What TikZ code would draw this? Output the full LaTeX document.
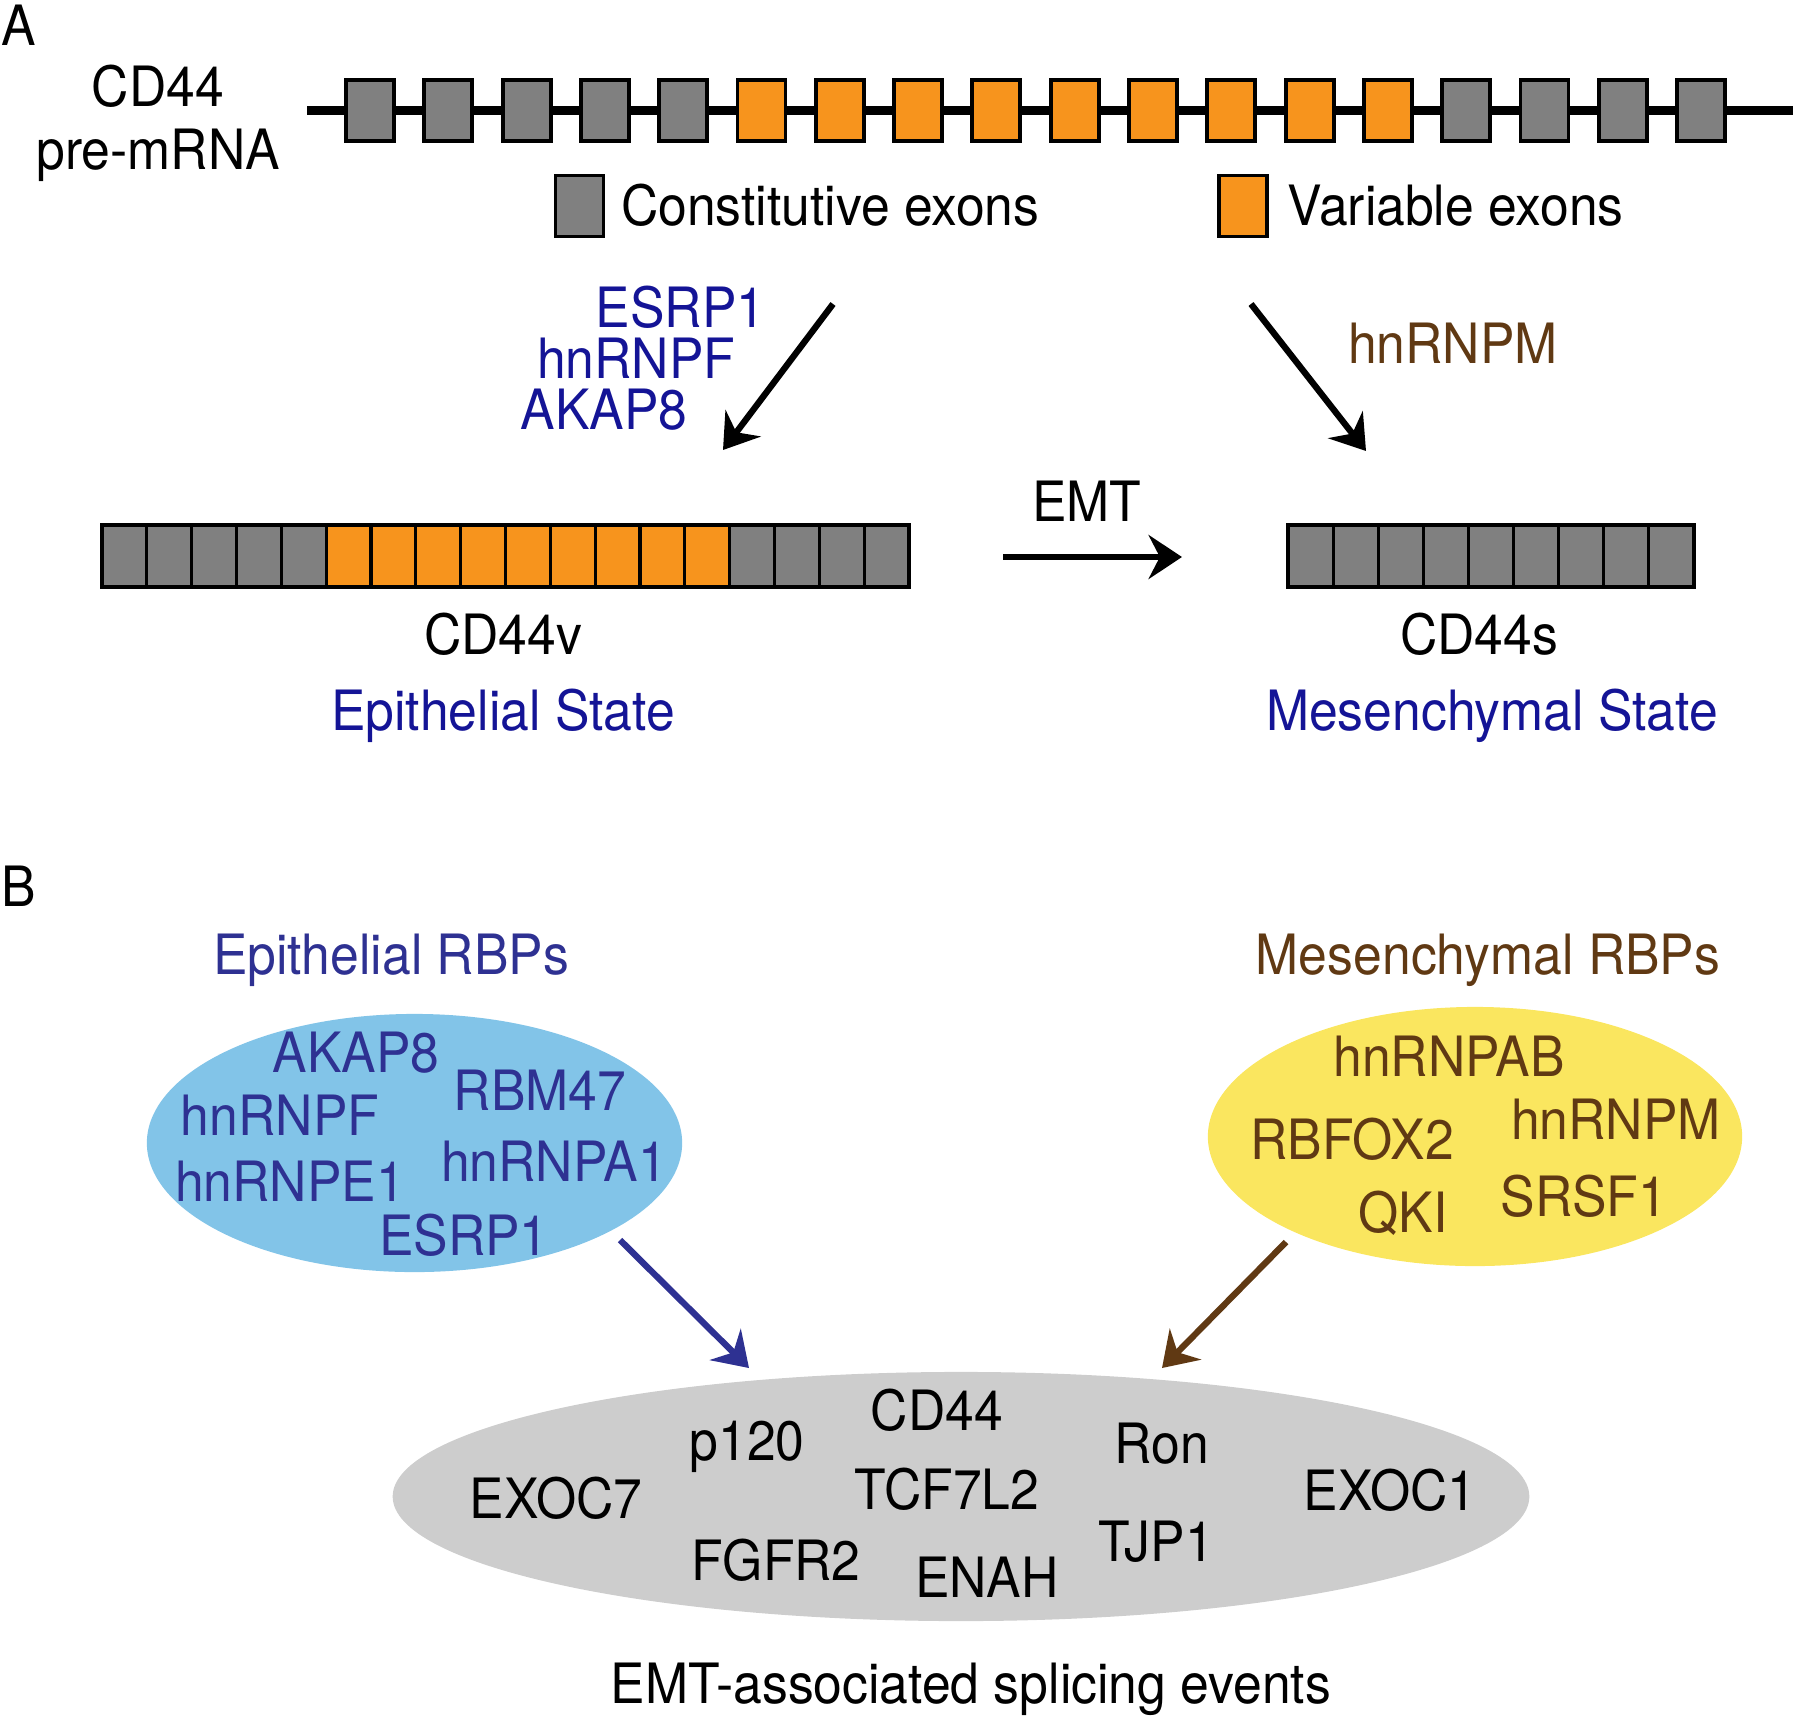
\documentclass[tikz,border=0pt]{standalone}
\usepackage{fontspec}
\setmainfont{TeX Gyre Heros}[FakeStretch=0.93]
\usetikzlibrary{arrows.meta,positioning,shapes.geometric}
\definecolor{exgray}{RGB}{128,128,128}
\definecolor{exorange}{RGB}{247,148,29}
\definecolor{stblue}{RGB}{20,20,150}
\definecolor{rbpblue}{RGB}{46,49,146}
\definecolor{rbpbrown}{RGB}{96,57,19}
\definecolor{epiblue}{RGB}{130,196,232}
\definecolor{mesyellow}{RGB}{250,230,95}
\definecolor{evgray}{RGB}{205,205,205}
\tikzstyle{lbl}=[inner sep=0pt, text height=11.35pt, text depth=0pt, font=\fontsize{15.8pt}{19pt}\selectfont]
\tikzstyle{exon}=[rectangle, draw=black, line width=1.1pt, minimum width=0.48cm, minimum height=0.61cm, inner sep=0pt]
\tikzstyle{cell}=[rectangle, draw=black, line width=0.9pt, minimum width=0.448cm, minimum height=0.62cm, inner sep=0pt]
\tikzstyle{blob}=[ellipse, inner sep=0pt, draw=none]
\tikzstyle{fatarrow}=[line width=1.8pt, -{Stealth[length=9.5pt,width=12.5pt,inset=3.2pt]}]

\begin{document}
\begin{tikzpicture}[x=0.01cm, y=-0.01cm]
	\useasboundingbox (0,0) rectangle (1800,1718);

	% ---- A: pre-mRNA
	\node[lbl] (labA) at (19,26) {A};
	\node[lbl] (cdpre) at (158,87) {CD44};
	\node[lbl] (premrna) at (158,150) {pre-mRNA};

	\coordinate (bbL) at (307,110.5);
	\coordinate (bbR) at (1793,110.5);
	\draw[line width=2.3pt] (bbL) -- (bbR);
	\foreach \i in {1,...,18}{
		\pgfmathtruncatemacro{\isvar}{and(\i>5,\i<15)}
		\ifnum\isvar=1 \def\col{exorange}\else \def\col{exgray}\fi
		\node[exon, fill=\col] (ex\i) at ({370+78.3*(\i-1)},110.5) {};
	}

	\node[exon, fill=exgray] (legC) at (579.5,206) {};
	\node[lbl, anchor=west, right=0.15cm of legC] (legCtxt) {Constitutive exons};
	\node[exon, fill=exorange] (legV) at (1243,206) {};
	\node[lbl, anchor=west, right=0.18cm of legV] (legVtxt) {Variable exons};

	% regulators
	\node[lbl, anchor=east, text=stblue] (aesrp) at (766,308) {ESRP1};
	\node[lbl, anchor=east, text=stblue] (ahnf) at (736,359) {hnRNPF};
	\node[lbl, anchor=east, text=stblue] (aakap) at (688,410) {AKAP8};
	\node[lbl, text=rbpbrown] (ahnm) at (1453,344) {hnRNPM};

	\coordinate (splL0) at (833,304);
	\coordinate (splL1) at (723,450);
	\coordinate (splR0) at (1251,304);
	\coordinate (splR1) at (1366,451);
	\draw[fatarrow] (splL0) -- (splL1);
	\draw[fatarrow] (splR0) -- (splR1);

	% spliced forms
	\foreach \i in {1,...,18}{
		\pgfmathtruncatemacro{\isvar}{and(\i>5,\i<15)}
		\ifnum\isvar=1 \def\col{exorange}\else \def\col{exgray}\fi
		\node[cell, fill=\col] (cv\i) at ({102+44.83*(\i-0.5)},556) {};
	}
	\foreach \i in {1,...,9}{
		\node[cell, fill=exgray, minimum width=0.451cm] (cs\i) at ({1288+45.1*(\i-0.5)},556) {};
	}

	\node[lbl] (emt) at (1087,502) {EMT};
	\coordinate (emt0) at (1003,557);
	\coordinate (emt1) at (1182,557);
	\draw[fatarrow] (emt0) -- (emt1);

	\node[lbl] (cdv) at (503,635) {CD44v};
	\node[lbl] (cds) at (1479,635) {CD44s};
	\node[lbl, text=stblue] (epistate) at (503,711) {Epithelial State};
	\node[lbl, text=stblue] (messtate) at (1492,711) {Mesenchymal State};

	% ---- B: RBPs
	\node[lbl] (labB) at (19,887) {B};
	\node[lbl, text=rbpblue] (epirbp) at (391,955) {Epithelial RBPs};
	\node[lbl, text=rbpbrown] (mesrbp) at (1488,955) {Mesenchymal RBPs};

	\node[blob, fill=epiblue, minimum width=5.35cm, minimum height=2.58cm] (epiell) at (414.5,1143) {};
	\node[blob, fill=mesyellow, minimum width=5.34cm, minimum height=2.59cm] (mesell) at (1475,1136.5) {};
	\node[blob, fill=evgray, minimum width=11.36cm, minimum height=2.49cm] (evell) at (961,1496.5) {};

	\node[lbl, text=rbpblue] (bakap) at (356,1053) {AKAP8};
	\node[lbl, text=rbpblue] (brbm) at (540,1091) {RBM47};
	\node[lbl, text=rbpblue] (bhnf) at (280,1116) {hnRNPF};
	\node[lbl, text=rbpblue] (bhna) at (554,1162) {hnRNPA1};
	\node[lbl, text=rbpblue] (bhne) at (290,1182) {hnRNPE1};
	\node[lbl, text=rbpblue] (besrp) at (464,1236) {ESRP1};

	\node[lbl, text=rbpbrown] (bhnab) at (1449,1057) {hnRNPAB};
	\node[lbl, text=rbpbrown] (bhnm) at (1616,1120) {hnRNPM};
	\node[lbl, text=rbpbrown] (bfox) at (1352,1140) {RBFOX2};
	\node[lbl, text=rbpbrown] (bsrsf) at (1584,1197) {SRSF1};
	\node[lbl, text=rbpbrown] (bqki) at (1403,1213) {QKI};

	\node[lbl] (gcd) at (937,1411) {CD44};
	\node[lbl] (gp) at (747,1441) {p120};
	\node[lbl] (gron) at (1162,1444) {Ron};
	\node[lbl] (gex7) at (556,1499) {EXOC7};
	\node[lbl] (gtcf) at (947,1490) {TCF7L2};
	\node[lbl] (gex1) at (1390,1491) {EXOC1};
	\node[lbl] (gtjp) at (1156,1542) {TJP1};
	\node[lbl] (gfgf) at (776,1561) {FGFR2};
	\node[lbl] (genah) at (987,1578) {ENAH};

	\node[lbl] (evtxt) at (971,1684) {EMT-associated splicing events};

	\coordinate (epi0) at (620,1240);
	\coordinate (epi1) at (749,1368);
	\coordinate (mes0) at (1286,1242);
	\coordinate (mes1) at (1162,1368);
	\draw[fatarrow, rbpblue] (epi0) -- (epi1);
	\draw[fatarrow, rbpbrown] (mes0) -- (mes1);

\end{tikzpicture}
\end{document}
